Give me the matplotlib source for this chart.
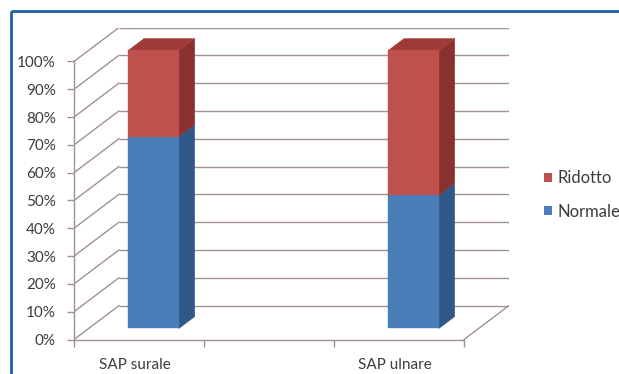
import numpy as np
import matplotlib
matplotlib.use("Agg")
import matplotlib.pyplot as plt
from matplotlib.patches import Polygon, Patch
from matplotlib.lines import Line2D
from matplotlib.transforms import ScaledTranslation

# ---- data -------------------------------------------------------------
categories = ["SAP surale", "", "SAP ulnare"]
normale = [69, np.nan, 48]     # % Normale
ridotto = [31, np.nan, 52]     # % Ridotto
series_names = ["Normale", "Ridotto"]
y_ticks = list(range(0, 101, 10))

# ---- style ------------------------------------------------------------
plt.rcParams["font.family"] = ["Lato", "DejaVu Sans"]
GRID = "#a3918f"
TXT = "#3c3c3c"
FRONT = {"Normale": "#4a7ebb", "Ridotto": "#c0504d"}
SIDE = {"Normale": "#2f5788", "Ridotto": "#8a302e"}
TOP = {"Normale": "#3c6aa0", "Ridotto": "#a03a37"}

# oblique depth of the 3-D box, in data units
DX, DY = 0.346, 12.2
BAR_W = 0.39
D0, D1 = 0.325, 0.675   # bar depth span (fraction of the box depth)


def proj(x, v, d):
    return (x + d * DX, v + d * DY)


W, H = 619, 374
fig = plt.figure(figsize=(W / 100, H / 100), dpi=100)
fig.patch.set_facecolor("white")

ax = fig.add_axes([74 / W, (H - 339.5) / H, 435 / W, 312 / H])
n = len(categories)
ax.set_xlim(-0.5, n - 0.5 + DX)
ax.set_ylim(0, 100 + DY)
ax.set_facecolor("none")

# back wall gridlines and left wall diagonals
for v in y_ticks:
    x0, y0 = proj(-0.5, v, 1)
    x1, _ = proj(n - 0.5, v, 1)
    ax.plot([x0, x1], [y0, y0], color=GRID, lw=1.0, zorder=1,
            solid_capstyle="butt")
    ax.plot([-0.5, x0], [v, y0], color=GRID, lw=1.0, zorder=1)
# right edge of the floor
fx, fy = proj(n - 0.5, 0, 1)
ax.plot([n - 0.5, fx], [0, fy], color=GRID, lw=1.0, zorder=1)


def box(x, b, t, name, with_top):
    x0, x1 = x - BAR_W / 2, x + BAR_W / 2
    side = [proj(x1, b, D0), proj(x1, b, D1), proj(x1, t, D1), proj(x1, t, D0)]
    front = [proj(x0, b, D0), proj(x1, b, D0), proj(x1, t, D0), proj(x0, t, D0)]
    ax.add_patch(Polygon(side, closed=True, facecolor=SIDE[name],
                         edgecolor=SIDE[name], lw=0.3, zorder=3))
    ax.add_patch(Polygon(front, closed=True, facecolor=FRONT[name],
                         edgecolor=FRONT[name], lw=0.3, zorder=4))
    if with_top:
        top = [proj(x0, t, D0), proj(x1, t, D0), proj(x1, t, D1), proj(x0, t, D1)]
        ax.add_patch(Polygon(top, closed=True, facecolor=TOP[name],
                             edgecolor=TOP[name], lw=0.3, zorder=3))


for i in range(n):
    a, r = normale[i], ridotto[i]
    if np.isnan(a):
        continue
    box(i, 0, a, "Normale", False)
    box(i, a, a + r, "Ridotto", True)

# axes lines and ticks
for s in ("top", "right"):
    ax.spines[s].set_visible(False)
for s in ("left", "bottom"):
    ax.spines[s].set_color(GRID)
    ax.spines[s].set_linewidth(1.0)
ax.spines["left"].set_bounds(0, 100)
ax.spines["bottom"].set_bounds(-0.5, n - 0.5)

ax.set_yticks(y_ticks)
ax.set_yticklabels([f"{t}%" for t in y_ticks])
ax.tick_params(axis="y", direction="out", length=5, width=1.0, color=GRID,
               labelsize=11, labelcolor=TXT, pad=8)

ax.set_xticks(np.arange(-0.5, n, 1.0))
ax.set_xticklabels([])
ax.set_xticks(range(n), minor=True)
ax.set_xticklabels(categories, minor=True)
ax.tick_params(axis="x", which="major", direction="out", length=5, width=1.0,
               color=GRID)
ax.tick_params(axis="x", which="minor", length=0, labelsize=11,
               labelcolor=TXT, pad=13)
for lab in ax.get_xticklabels(minor=True):
    lab.set_transform(lab.get_transform()
                      + ScaledTranslation(-4 / 100, 0, fig.dpi_scale_trans))

# legend
handles = [Patch(facecolor=FRONT["Ridotto"]), Patch(facecolor=FRONT["Normale"])]
fig.legend(handles, ["Ridotto", "Normale"], loc="center left",
           bbox_to_anchor=(544 / W, (H - 195) / H), frameon=False,
           handlelength=0.5, handleheight=0.5, handletextpad=0.3,
           labelspacing=1.04, fontsize=12, labelcolor=TXT, borderpad=0,
           borderaxespad=0)

# outer frame (left and top edges)
fc = "#1f5fa6"
fig.add_artist(Line2D([11 / W, 11 / W], [0, (H - 11) / H], color=fc, lw=2.0,
                      transform=fig.transFigure, solid_capstyle="butt"))
fig.add_artist(Line2D([11 / W, 1], [(H - 11) / H, (H - 11) / H], color=fc,
                      lw=2.0, transform=fig.transFigure, solid_capstyle="butt"))

fig.savefig("out.png", dpi=100, facecolor="white")
